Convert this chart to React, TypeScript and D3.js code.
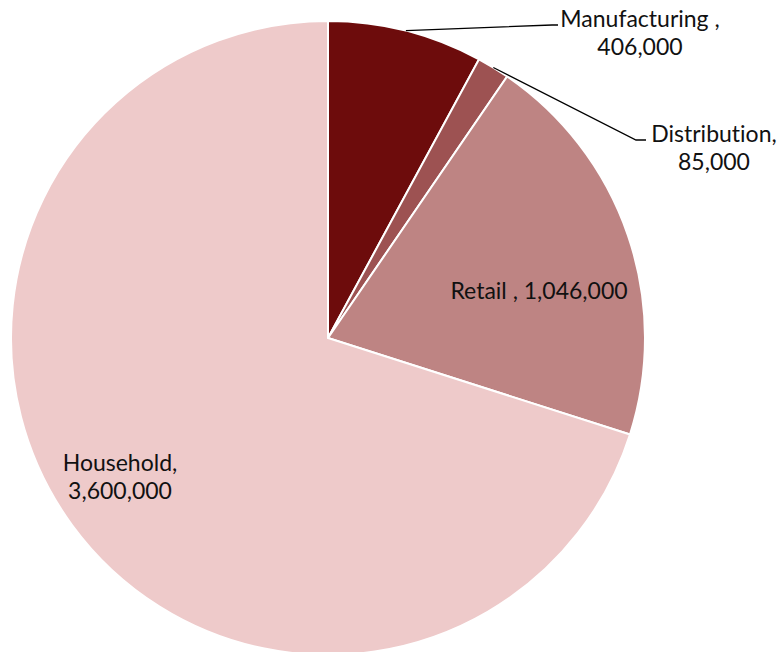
import React from 'react';
import * as d3 from 'd3';

const categories = ['Manufacturing', 'Distribution', 'Retail', 'Household'];
const values = [406000, 85000, 1046000, 3600000];
const labelLines = [
  ['Manufacturing ,', '406,000'],
  ['Distribution,', '85,000'],
  ['Retail , 1,046,000'],
  ['Household,', '3,600,000'],
];
const colors = ['#6d0c0c', '#9d5252', '#be8483', '#eecaca'];

// label placement (layout only)
const labelPos = [
  { x: 640, y: 27, leader: [552, 558] },
  { x: 714, y: 142, leader: [636, 646] },
  { x: 539, y: 299, leader: null },
  { x: 120, y: 471, leader: null },
];

const W = 779;
const H = 652;
const cx = 328;
const cy = 338;
const R = 317;

export default function App() {
  const pie = d3.pie<number>().sort(null).value(d => d);
  const arcs = pie(values);
  const arc = d3.arc<d3.PieArcDatum<number>>().innerRadius(0).outerRadius(R);
  const edge = d3.arc<d3.PieArcDatum<number>>().innerRadius(R).outerRadius(R);
  const lineHeight = 28;

  return (
    <svg width={W} height={H} style={{ position: 'absolute', left: 0, top: 0, fontVariantLigatures: 'none' }}
      fontFamily="Lato, 'Open Sans', sans-serif">
      <rect width={W} height={H} fill="#fff" />
      <g transform={`translate(${cx},${cy})`}>
        {arcs.map((a, i) => (
          <path key={categories[i]} d={arc(a) || ''} fill={colors[i]} stroke="#fff" strokeWidth={2} />
        ))}
      </g>
      {arcs.map((a, i) => {
        const p = labelPos[i];
        if (!p.leader) return null;
        const [sx, sy] = edge.centroid(a);
        const pts = [[cx + sx, cy + sy], [p.leader[0], p.y - 2], [p.leader[1], p.y - 2]];
        return (
          <polyline key={'l' + i} points={pts.map(q => q.join(',')).join(' ')}
            fill="none" stroke="#000" strokeWidth={1.3} />
        );
      })}
      {labelLines.map((lines, i) => (
        <text key={'t' + i} textAnchor="middle" fontSize={23} fill="#111">
          {lines.map((s, j) => (
            <tspan key={j} x={labelPos[i].x} y={labelPos[i].y + j * lineHeight}>{s}</tspan>
          ))}
        </text>
      ))}
    </svg>
  );
}
